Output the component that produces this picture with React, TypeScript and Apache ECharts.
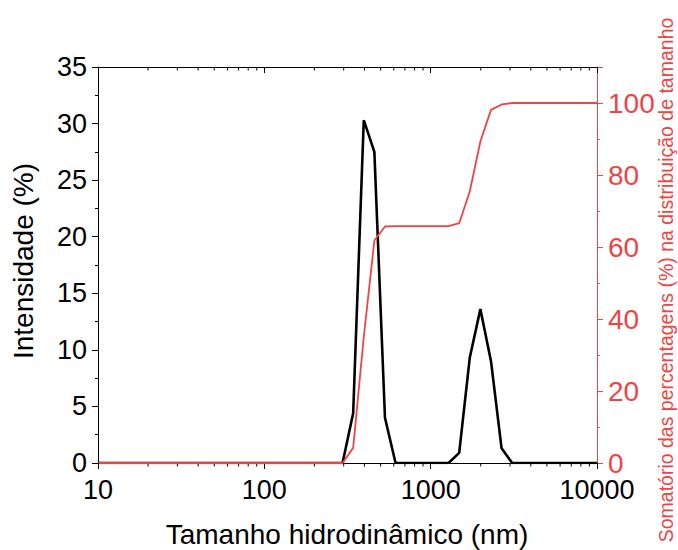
import React, { useEffect, useRef } from "react";
import * as echarts from "echarts";

// Hydrodynamic diameter bins (nm)
const sizes = [
  10.1, 11.7, 13.54, 15.69, 18.17, 21.04, 24.36, 28.21, 32.67, 37.84, 43.82,
  50.75, 58.77, 68.06, 78.82, 91.28, 105.7, 122.4, 141.8, 164.2, 190.1, 220.2,
  255, 295.3, 342, 396.1, 458.7, 531.2, 615.1, 712.4, 825, 955.4, 1106, 1281,
  1484, 1718, 1990, 2305, 2669, 3091, 3580, 4145, 4801, 5560, 6439, 7456,
  8635, 10000,
];

// Intensity distribution (%)
const intensity = [
  0, 0, 0, 0, 0, 0, 0, 0, 0, 0, 0,
  0, 0, 0, 0, 0, 0, 0, 0, 0, 0, 0,
  0, 0, 4.4, 30.3, 27.5, 4.0, 0, 0, 0, 0, 0, 0,
  0.9, 9.3, 13.6, 9.0, 1.3, 0, 0, 0, 0, 0, 0, 0,
  0, 0,
];

// Cumulative distribution (%)
const cumulative = [
  0, 0, 0, 0, 0, 0, 0, 0, 0, 0, 0,
  0, 0, 0, 0, 0, 0, 0, 0, 0, 0, 0,
  0, 0, 4.2, 35, 61.8, 65.7, 65.8, 65.8, 65.8, 65.8, 65.8, 65.8,
  66.6, 75.4, 89.3, 98.1, 99.6, 100, 100, 100, 100, 100, 100, 100,
  100, 100,
];

// Log-axis minor tick values
const minorTickValues = [
  20, 30, 40, 50, 60, 70, 80, 90,
  200, 300, 400, 500, 600, 700, 800, 900,
  2000, 3000, 4000, 5000, 6000, 7000, 8000, 9000,
];

const RED = "#F04444";
const FONT = "Liberation Sans, Arial, sans-serif";

export default function App() {
  const ref = useRef<HTMLDivElement>(null);

  useEffect(() => {
    if (!ref.current) return;
    const chart = echarts.init(ref.current, null, { renderer: "svg" });

    const labelStyle = { fontSize: 27, fontFamily: FONT, color: "#000" };

    chart.setOption({
      animation: false,
      backgroundColor: "#fff",
      grid: { left: 98, top: 67, width: 499, height: 396 },
      xAxis: [
        {
          type: "log",
          logBase: 10,
          min: 10,
          max: 10000,
          position: "bottom",
          axisLine: { show: true, onZero: false, lineStyle: { color: "#000", width: 1 } },
          axisTick: { show: true, inside: false, length: 6, lineStyle: { color: "#000" } },
          minorTick: { show: false },
          axisLabel: { ...labelStyle, margin: 13, formatter: (v: number) => String(Math.round(v)) },
          splitLine: { show: false },
        },
        {
          type: "log",
          logBase: 10,
          min: 10,
          max: 10000,
          position: "top",
          axisLine: { show: true, onZero: false, lineStyle: { color: "#000", width: 1 } },
          axisTick: { show: true, inside: true, length: 6, lineStyle: { color: "#000" } },
          axisLabel: { show: false },
          splitLine: { show: false },
        },
      ],
      yAxis: [
        {
          type: "value",
          min: 0,
          max: 35,
          interval: 5,
          position: "left",
          axisLine: { show: true, onZero: false, lineStyle: { color: "#000", width: 1 } },
          axisTick: { show: true, inside: false, length: 6, lineStyle: { color: "#000" } },
          minorTick: { show: true, splitNumber: 2, length: 3, lineStyle: { color: "#000" } },
          axisLabel: { ...labelStyle, margin: 11 },
          splitLine: { show: false },
        },
        {
          type: "value",
          min: 0,
          max: 110,
          interval: 20,
          position: "right",
          axisLine: { show: true, onZero: false, lineStyle: { color: RED, width: 1 } },
          axisTick: { show: true, inside: false, length: 6, lineStyle: { color: RED } },
          axisLabel: {
            ...labelStyle,
            fontSize: 28,
            color: RED,
            margin: 11,
            formatter: (v: number) => (v > 100 ? "" : String(v)),
          },
          splitLine: { show: false },
        },
        {
          // minor ticks of the cumulative axis
          type: "value",
          min: 0,
          max: 110,
          interval: 10,
          position: "right",
          axisLine: { show: false },
          axisTick: { show: true, inside: false, length: 3, lineStyle: { color: RED } },
          axisLabel: { show: false },
          splitLine: { show: false },
        },
      ],
      graphic: [
        {
          type: "text",
          x: 23,
          y: 261,
          rotation: Math.PI / 2,
          style: {
            text: "Intensidade (%)",
            fontSize: 28,
            fontFamily: FONT,
            fill: "#000",
            align: "center",
            verticalAlign: "middle",
          },
        },
        {
          type: "text",
          x: 347,
          y: 534,
          style: {
            text: "Tamanho hidrodinâmico (nm)",
            fontSize: 28,
            fontFamily: FONT,
            fill: "#000",
            align: "center",
            verticalAlign: "middle",
          },
        },
        {
          type: "text",
          x: 666,
          y: 280,
          rotation: Math.PI / 2,
          style: {
            text: "Somatório das percentagens (%) na distribuição de tamanho",
            fontSize: 19.5,
            fontFamily: FONT,
            fill: RED,
            align: "center",
            verticalAlign: "middle",
          },
        },
      ],
      series: [
        {
          type: "custom",
          xAxisIndex: 0,
          yAxisIndex: 0,
          clip: false,
          silent: true,
          data: minorTickValues.map((v) => [v]),
          renderItem: (_params: any, api: any) => {
            const v = api.value(0);
            const b = api.coord([v, 0]);
            const t = api.coord([v, 35]);
            return {
              type: "group",
              children: [
                {
                  type: "line",
                  shape: { x1: b[0], y1: b[1], x2: b[0], y2: b[1] + 3.5 },
                  style: { stroke: "#000", lineWidth: 1 },
                },
                {
                  type: "line",
                  shape: { x1: t[0], y1: t[1], x2: t[0], y2: t[1] + 3.5 },
                  style: { stroke: "#000", lineWidth: 1 },
                },
              ],
            };
          },
        },
        {
          name: "Intensidade",
          type: "line",
          xAxisIndex: 0,
          yAxisIndex: 0,
          data: sizes.map((s, i) => [s, intensity[i]]),
          symbol: "none",
          lineStyle: { color: "#000", width: 2.6 },
          itemStyle: { color: "#000" },
        },
        {
          name: "Somatório",
          type: "line",
          xAxisIndex: 0,
          yAxisIndex: 1,
          data: sizes.map((s, i) => [s, cumulative[i]]),
          symbol: "none",
          lineStyle: { color: RED, width: 1.8 },
          itemStyle: { color: RED },
        },
      ],
    });

    return () => chart.dispose();
  }, []);

  return <div ref={ref} style={{ width: 678, height: 550, position: "absolute", left: 0, top: 0 }} />;
}
